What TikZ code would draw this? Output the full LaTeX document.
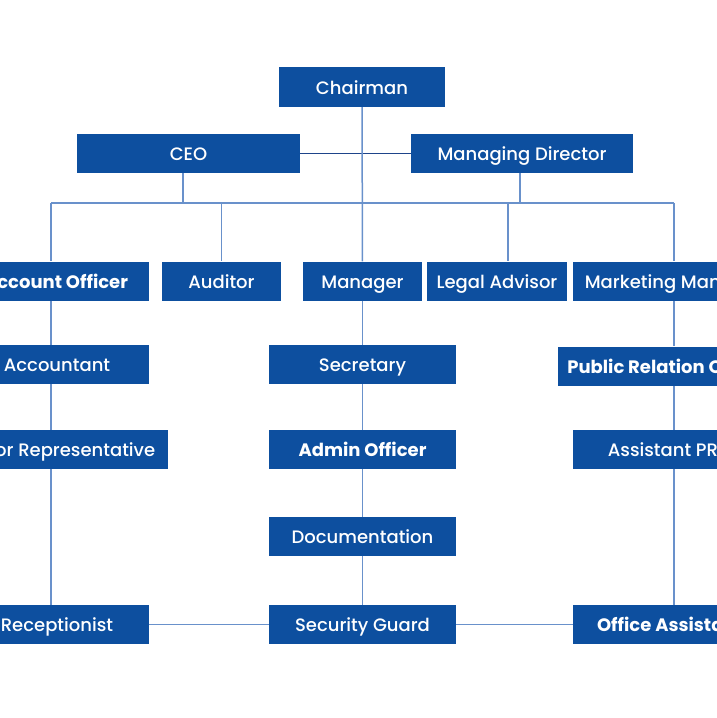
\documentclass[tikz,border=0pt]{standalone}
\usepackage{fontspec}
\setmainfont{Poppins}
\newfontfamily\postmedium{Poppins Medium}
\usepackage{tikz}
\usetikzlibrary{positioning,calc}

\definecolor{postblue}{RGB}{13,79,159}
\definecolor{linkblue}{RGB}{105,145,203}
\definecolor{darklink}{RGB}{30,68,138}

\begin{document}
\begin{tikzpicture}[x=1pt,y=-1pt]
        \tikzstyle{every node}=[font=\fontsize{18}{21}\selectfont\postmedium]
        \tikzstyle{post}=[rectangle,fill=postblue,text=white,minimum height=39pt,inner sep=0pt,
                          text height=14pt,text depth=0pt]
        \tikzstyle{boldpost}=[post,font=\fontsize{18}{21}\selectfont\bfseries]
        \tikzstyle{link}=[draw=linkblue,line width=1.5pt]

        \useasboundingbox (0,0) rectangle (717,718);
        \clip (0,0) rectangle (717,718);

        %%% Top
        \node[post,minimum width=166pt,minimum height=40pt] (chairman) at (362,87) {Chairman};
        \node[post,minimum width=223pt] (ceo) at (188.5,153.5) {CEO};
        \node[post,minimum width=222pt] (md) at (522,153.5) {Managing Director};

        %%% Second row
        \node[boldpost,minimum width=186pt] (acct) at (56,281) {Account Officer};
        \node[post,minimum width=119pt] (auditor) at (221.5,281) {Auditor};
        \node[post,minimum width=119pt] (manager) at (362.5,281) {Manager};
        \node[post,minimum width=140pt] (legal) at (497,281) {Legal Advisor};
        \node[post,minimum width=202pt] (marketing) at (674,281) {Marketing Manager};

        %%% Columns
        \node[post,minimum width=184pt] (accountant) at (57,364.5) {Accountant};
        \node[post,minimum width=187pt] (secretary) at (362.5,364.5) {Secretary};
        \node[boldpost,minimum width=222pt] (pro) at (669,366) {Public Relation Officer};

        \node[post,minimum width=224pt] (rep) at (56,449.5) {Senior Representative};
        \node[boldpost,minimum width=187pt] (admin) at (362.5,449.5) {Admin Officer};
        \node[post,minimum width=194pt] (apro) at (670,449.5) {Assistant PRO};

        \node[post,minimum width=187pt] (docu) at (362.5,536.5) {Documentation};

        \node[post,minimum width=184pt] (recep) at (57,624.5) {Receptionist};
        \node[post,minimum width=187pt] (guard) at (362.5,624.5) {Security Guard};
        \node[boldpost,minimum width=194pt] (office) at (670,624.5) {Office Assistant};

        % bus under CEO and MD
        \coordinate (busl) at (51,203);
        \coordinate (busr) at (674,203);
        \coordinate (ceodrop) at (183,203);
        \coordinate (mddrop) at (520,203);
        \coordinate (legaldrop) at (508,203);

        \draw[draw=darklink,line width=1.2pt] (ceo) -- (md);
        \draw[link] (chairman) -- (manager);
        \draw[link] (busl) -- (busr);
        \draw[link] (ceodrop |- ceo.south) -- (ceodrop);
        \draw[link] (mddrop |- md.south) -- (mddrop);
        \draw[link] (busl) -- (busl |- acct.north);
        \draw[link] (auditor.north |- busl) -- (auditor.north);
        \draw[link] (legaldrop) -- (legaldrop |- legal.north);
        \draw[link] (busr) -- (marketing.north);

        % side columns
        \foreach \a/\b in {acct/accountant,accountant/rep,rep/recep}
            \draw[link] (busl |- \a.south) -- (busl |- \b.north);
        \foreach \a/\b in {marketing/pro,pro/apro,apro/office}
            \draw[link] (busr |- \a.south) -- (busr |- \b.north);

        \foreach \a/\b in {manager/secretary,secretary/admin,admin/docu,docu/guard,
                           recep/guard,guard/office}
            \draw[link] (\a) -- (\b);
\end{tikzpicture}
\end{document}
